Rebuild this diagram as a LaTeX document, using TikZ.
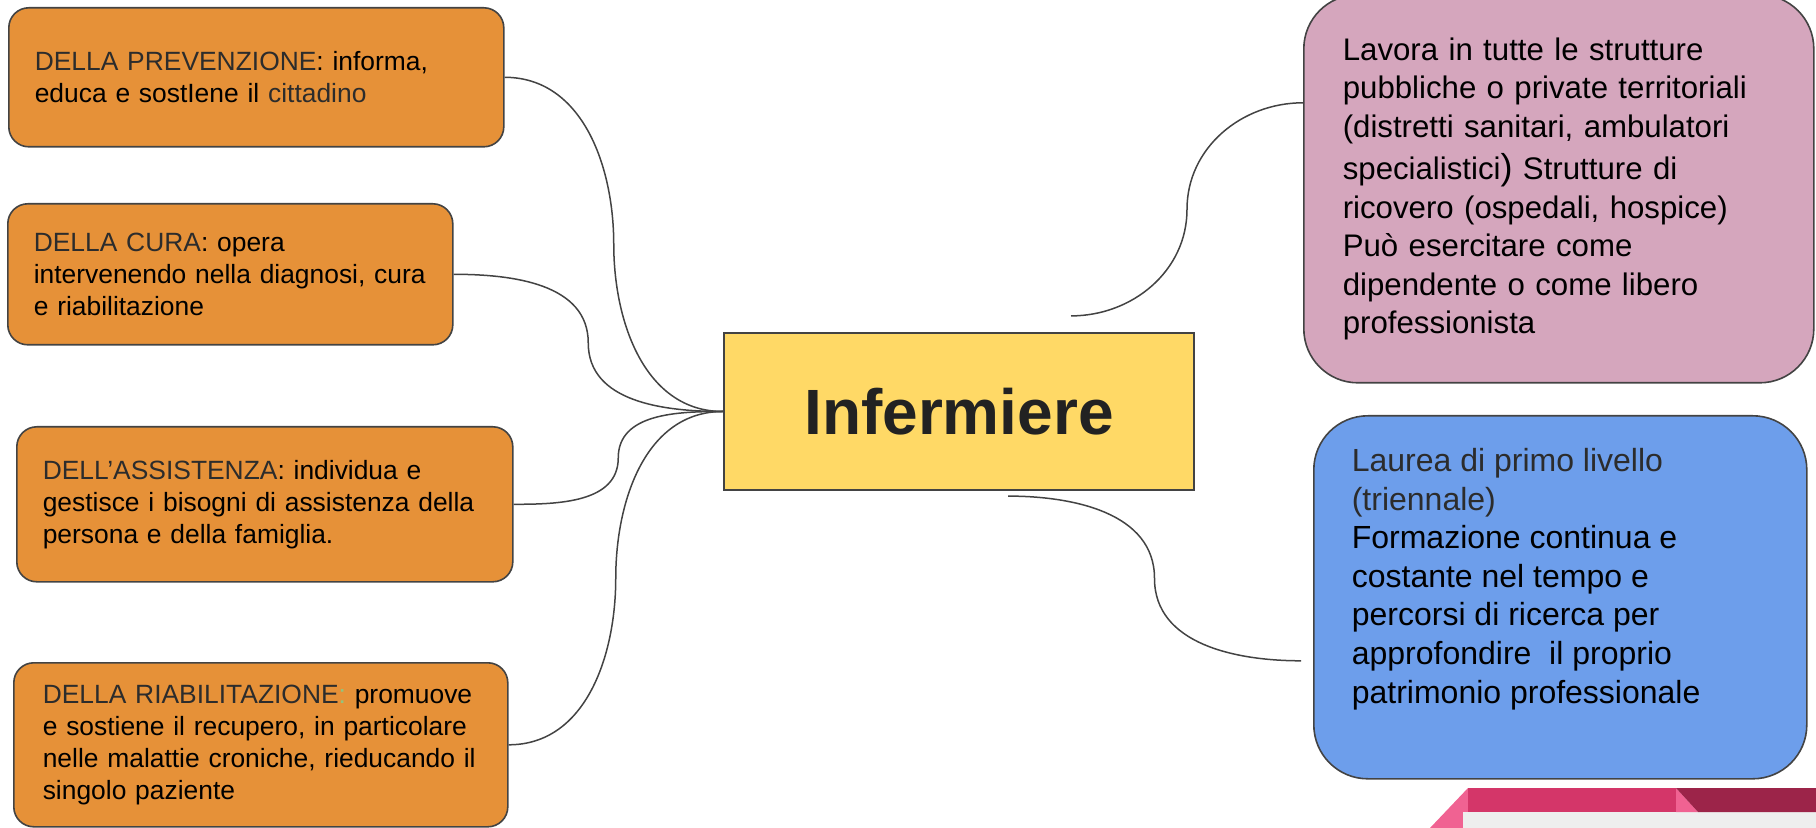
\documentclass[tikz,border=0pt]{standalone}
\usepackage{fontspec}
\setmainfont{Liberation Sans}
\usepackage{tikz}
\usetikzlibrary{calc}
\definecolor{arancio}{HTML}{E69138}
\definecolor{rosa}{HTML}{D5A6BD}
\definecolor{azzurro}{HTML}{6D9EEB}
\definecolor{giallo}{HTML}{FFD966}
\definecolor{bordo}{HTML}{434343}
\definecolor{grigiotxt}{HTML}{2C2C2C}
\definecolor{titolo}{HTML}{222222}
\definecolor{verde}{HTML}{93C47D}
\definecolor{fucsia}{HTML}{D43669}
\definecolor{rosachiaro}{HTML}{F06292}
\definecolor{vinaccia}{HTML}{9C2449}
\definecolor{grigiochiaro}{HTML}{EEEEEE}

\begin{document}
\begin{tikzpicture}[x=0.5pt,y=0.5pt,inner ysep=0pt,link/.style={draw=bordo,line width=0.75pt}]
 \tikzstyle{ruolo}=[draw=bordo,line width=0.8pt,fill=arancio,rounded corners=10pt,anchor=north west,align=left,inner xsep=13pt,font=\fontsize{13.2pt}{16pt}\selectfont]
 \tikzstyle{scheda}=[draw=bordo,line width=0.8pt,rounded corners=27pt,anchor=north west]

   \useasboundingbox (0,0) rectangle (1816,-828);

   \node[draw=bordo,fill=giallo,line width=1.1pt,minimum width=235pt,minimum height=78.5pt,text=titolo,font=\fontsize{32pt}{38pt}\selectfont\bfseries] (inf) at (959,-411.5) {Infermiere};

   \node[ruolo,text width=221.5pt,minimum width=247.5pt,minimum height=69.5pt] (prev) at (8,-7)
     {\textcolor{grigiotxt}{DELLA PREVENZIONE}: informa,\\educa e sostIene il \textcolor{grigiotxt}{cittadino}};
   \node[ruolo,text width=196.5pt,minimum width=222.5pt,minimum height=70.5pt] (cura) at (7,-203)
     {\textcolor{grigiotxt}{DELLA CURA}: opera\\intervenendo nella diagnosi, cura\\e riabilitazione};
   \node[ruolo,text width=222pt,minimum width=248pt,minimum height=77.5pt] (assi) at (16,-426)
     {\textcolor{grigiotxt}{DELL’ASSISTENZA}: individua e\\gestisce i bisogni di assistenza della\\persona e della famiglia.};
   \node[ruolo,inner xsep=14.5pt,text width=218pt,minimum width=247pt,minimum height=82pt] (riab) at (13,-662)
     {\textcolor{grigiotxt}{DELLA RIABILITAZIONE}\textcolor{verde}{:} promuove\\e sostiene il recupero, in particolare\\nelle malattie croniche, rieducando il\\singolo paziente};

   \node[scheda,fill=rosa,align=left,inner xsep=19.5pt,text width=216pt,minimum width=255pt,minimum height=194pt,font=\fontsize{15.6pt}{19.25pt}\selectfont] (lav) at (1303,6)
     {Lavora in tutte le strutture\\pubbliche o private territoriali\\(distretti sanitari, ambulatori\\[2pt]specialistici{\fontsize{18pt}{19pt}\selectfont)} Strutture di\\ricovero (ospedali, hospice)\\Può esercitare come\\dipendente o come libero\\professionista};
   \node[scheda,fill=azzurro,inner xsep=19pt,inner ysep=16.3pt,minimum width=246.5pt,font=\fontsize{16pt}{19.3pt}\selectfont] (lau) at (1313,-415)
     {\parbox[b][148.9pt][t]{208.5pt}{\color{grigiotxt}Laurea di primo livello\\(triennale)\\\color{black}Formazione continua e\\costante nel tempo e\\percorsi di ricerca per\\approfondire\ \ il proprio\\patrimonio professionale}};

   \coordinate (m1) at ($(prev.east)!0.5!(inf.west)$);
   \coordinate (m2) at ($(cura.east)!0.5!(inf.west)$);
   \coordinate (m3) at ($(assi.east)!0.5!(inf.west)$);
   \coordinate (m4) at ($(riab.east)!0.5!(inf.west)$);
   \coordinate (l1) at ($(inf.north)+(112,16)$);
   \coordinate (l2) at ($(lav.west)+(0,86)$);
   \coordinate (l3) at ($(l1)!0.5!(l2)$);
   \coordinate (b1) at ($(inf.south)+(49,-5)$);
   \coordinate (b2) at ($(lau.west)+(-12,-63.5)$);
   \coordinate (b3) at ($(b1)!0.5!(b2)$);

   \draw[link] (prev.east) to[out=0,in=90] (m1) to[out=-90,in=180] (inf.west);
   \draw[link] (cura.east) to[out=0,in=90] (m2) to[out=-90,in=180] (inf.west);
   \draw[link] (assi.east) to[out=0,in=-90] (m3) to[out=90,in=180] (inf.west);
   \draw[link] (riab.east) to[out=0,in=-90] (m4) to[out=90,in=180] (inf.west);
   \draw[link] (l1) to[out=0,in=-90] (l3) to[out=90,in=180] (l2);
   \draw[link] (b1) to[out=0,in=90] (b3) to[out=-90,in=180] (b2);

   \fill[rosachiaro] (1430,-828) -- (1468,-788) -- (1468,-828) -- cycle;
   \fill[grigiochiaro] (1463,-812) rectangle (1816,-828);
   \fill[fucsia] (1468,-788) rectangle (1676,-812);
   \fill[rosachiaro] (1676,-788) -- (1698,-812) -- (1676,-812) -- cycle;
   \fill[vinaccia] (1676,-788) -- (1816,-788) -- (1816,-812) -- (1698,-812) -- cycle;

\end{tikzpicture}
\end{document}
